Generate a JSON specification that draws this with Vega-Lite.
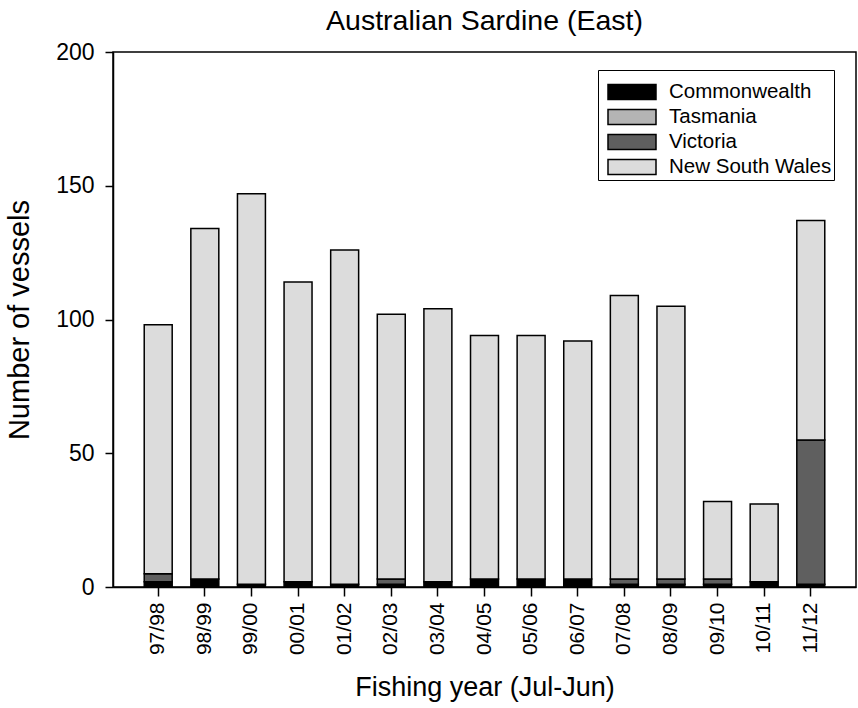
{
  "$schema": "https://vega.github.io/schema/vega-lite/v6.json",
  "width": 743,
  "height": 535,
  "autosize": {"type": "none"},
  "padding": {"left": 113, "top": 52, "right": 2, "bottom": 121},
  "background": "white",
  "title": {
    "text": "Australian Sardine (East)",
    "fontSize": 28.5,
    "font": "Liberation Sans",
    "fontWeight": "normal",
    "color": "black",
    "anchor": "middle",
    "offset": 6
  },
  "config": {
    "view": {"stroke": "black", "strokeWidth": 1.5},
    "font": "Liberation Sans"
  },
  "data": {
    "values": [
      {"year": "97/98", "jurisdiction": "Commonwealth", "ord": 1, "vessels": 2},
      {"year": "97/98", "jurisdiction": "Victoria", "ord": 3, "vessels": 3},
      {"year": "97/98", "jurisdiction": "New South Wales", "ord": 4, "vessels": 93},
      {"year": "98/99", "jurisdiction": "Commonwealth", "ord": 1, "vessels": 3},
      {"year": "98/99", "jurisdiction": "New South Wales", "ord": 4, "vessels": 131},
      {"year": "99/00", "jurisdiction": "Commonwealth", "ord": 1, "vessels": 1},
      {"year": "99/00", "jurisdiction": "New South Wales", "ord": 4, "vessels": 146},
      {"year": "00/01", "jurisdiction": "Commonwealth", "ord": 1, "vessels": 2},
      {"year": "00/01", "jurisdiction": "New South Wales", "ord": 4, "vessels": 112},
      {"year": "01/02", "jurisdiction": "Commonwealth", "ord": 1, "vessels": 1},
      {"year": "01/02", "jurisdiction": "New South Wales", "ord": 4, "vessels": 125},
      {"year": "02/03", "jurisdiction": "Commonwealth", "ord": 1, "vessels": 1},
      {"year": "02/03", "jurisdiction": "Victoria", "ord": 3, "vessels": 2},
      {"year": "02/03", "jurisdiction": "New South Wales", "ord": 4, "vessels": 99},
      {"year": "03/04", "jurisdiction": "Commonwealth", "ord": 1, "vessels": 2},
      {"year": "03/04", "jurisdiction": "New South Wales", "ord": 4, "vessels": 102},
      {"year": "04/05", "jurisdiction": "Commonwealth", "ord": 1, "vessels": 3},
      {"year": "04/05", "jurisdiction": "New South Wales", "ord": 4, "vessels": 91},
      {"year": "05/06", "jurisdiction": "Commonwealth", "ord": 1, "vessels": 3},
      {"year": "05/06", "jurisdiction": "New South Wales", "ord": 4, "vessels": 91},
      {"year": "06/07", "jurisdiction": "Commonwealth", "ord": 1, "vessels": 3},
      {"year": "06/07", "jurisdiction": "New South Wales", "ord": 4, "vessels": 89},
      {"year": "07/08", "jurisdiction": "Commonwealth", "ord": 1, "vessels": 1},
      {"year": "07/08", "jurisdiction": "Victoria", "ord": 3, "vessels": 2},
      {"year": "07/08", "jurisdiction": "New South Wales", "ord": 4, "vessels": 106},
      {"year": "08/09", "jurisdiction": "Commonwealth", "ord": 1, "vessels": 1},
      {"year": "08/09", "jurisdiction": "Victoria", "ord": 3, "vessels": 2},
      {"year": "08/09", "jurisdiction": "New South Wales", "ord": 4, "vessels": 102},
      {"year": "09/10", "jurisdiction": "Commonwealth", "ord": 1, "vessels": 1},
      {"year": "09/10", "jurisdiction": "Victoria", "ord": 3, "vessels": 2},
      {"year": "09/10", "jurisdiction": "New South Wales", "ord": 4, "vessels": 29},
      {"year": "10/11", "jurisdiction": "Commonwealth", "ord": 1, "vessels": 2},
      {"year": "10/11", "jurisdiction": "New South Wales", "ord": 4, "vessels": 29},
      {"year": "11/12", "jurisdiction": "Commonwealth", "ord": 1, "vessels": 1},
      {"year": "11/12", "jurisdiction": "Victoria", "ord": 3, "vessels": 54},
      {"year": "11/12", "jurisdiction": "New South Wales", "ord": 4, "vessels": 82}
    ]
  },
  "mark": {"type": "bar", "stroke": "black", "strokeWidth": 1.5},
  "encoding": {
    "x": {
      "field": "year",
      "type": "ordinal",
      "sort": null,
      "scale": {"paddingInner": 0.4, "paddingOuter": 0.67},
      "axis": {
        "title": "Fishing year (Jul-Jun)",
        "titleFontSize": 27,
        "titleFontWeight": "normal",
        "titleColor": "black",
        "titlePadding": 20,
        "labelAngle": -90,
        "labelFontSize": 21,
        "labelColor": "black",
        "labelPadding": 6,
        "tickSize": 9,
        "tickColor": "black",
        "tickWidth": 1.5,
        "domainColor": "black",
        "domainWidth": 1.5
      }
    },
    "y": {
      "field": "vessels",
      "type": "quantitative",
      "aggregate": "sum",
      "stack": "zero",
      "scale": {"domain": [0, 200], "nice": false},
      "axis": {
        "title": "Number of vessels",
        "titleFontSize": 29,
        "titleFontWeight": "normal",
        "titleColor": "black",
        "titlePadding": 21,
        "values": [0, 50, 100, 150, 200],
        "labelFontSize": 23,
        "labelColor": "black",
        "labelPadding": 11,
        "tickSize": 8,
        "tickColor": "black",
        "tickWidth": 1.5,
        "domainColor": "black",
        "domainWidth": 1.5,
        "grid": false
      }
    },
    "color": {
      "field": "jurisdiction",
      "type": "nominal",
      "scale": {
        "domain": ["Commonwealth", "Tasmania", "Victoria", "New South Wales"],
        "range": ["#000000", "#b4b4b4", "#5f5f5f", "#dcdcdc"]
      },
      "legend": {
        "title": " ",
        "titleFontSize": 1,
        "titlePadding": 8,
        "orient": "none",
        "legendX": 485,
        "legendY": 18,
        "strokeColor": "black",
        "fillColor": "white",
        "padding": 2,
        "symbolType": "M-0.3,-0.75H4.5V0.75H-0.3Z",
        "symbolSize": 400,
        "symbolStrokeColor": "black",
        "symbolStrokeWidth": 1.5,
        "symbolOpacity": 1,
        "labelFontSize": 20.5,
        "labelColor": "black",
        "labelOffset": 47,
        "rowPadding": 3,
        "labelLimit": 300,
        "encode": {
          "symbols": {"update": {"stroke": {"value": "black"}, "strokeWidth": {"value": 1.5}}}
        }
      }
    },
    "order": {"field": "ord", "type": "quantitative"}
  }
}
